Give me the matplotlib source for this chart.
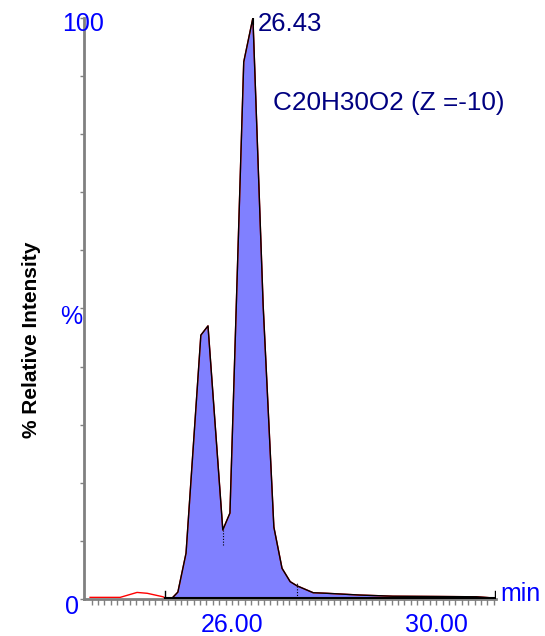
import matplotlib.pyplot as plt
import numpy as np

plt.rcParams['font.family'] = ['Liberation Sans', 'DejaVu Sans']

# chromatogram trace (retention time in min, % relative intensity)
rt = [23.22, 23.81, 24.14, 24.34, 24.65, 24.69, 24.83, 24.94, 25.10, 25.39, 25.53,
      25.82, 25.96, 26.23, 26.41, 26.61, 26.82, 26.98, 27.14, 27.27, 27.59, 27.86,
      28.50, 29.15, 30.07, 30.79, 31.11, 31.16]
intensity = [0.3, 0.3, 1.15, 1.0, 0.4, 0.2, 0.2, 1.2, 7.9, 45.4, 47.0,
             11.9, 14.8, 92.4, 100, 50.6, 12.4, 5.3, 3.0, 2.3, 1.1, 1.0,
             0.7, 0.5, 0.45, 0.4, 0.2, 0.2]
peak_start, peak_end = 24.69, 31.16
split_marks = [25.82, 27.27]
peak_label = "26.43"
formula = "C20H30O2 (Z =-10)"
xtick_vals = [26.0, 30.0]
xtick_text = ["26.00", "30.00"]

blue = '#0000ff'
navy = '#000080'
grey = '#808080'

fig = plt.figure(figsize=(5.45, 6.36), dpi=100)
ax = fig.add_axes([0.154, 0.058, 0.756, 0.914])

rt = np.array(rt)
intensity = np.array(intensity)
base = 0.2
m = (rt >= peak_start) & (rt <= peak_end)

ax.plot(rt, intensity, color='red', lw=1.0, zorder=2)
ax.fill_between(rt[m], base, intensity[m], color='#8080ff', lw=0, zorder=1)
ax.plot(rt[m], intensity[m], color='black', lw=1.0, zorder=3)
ax.plot([peak_start, peak_end], [base, base], color='black', lw=1.5, zorder=3)
for x in [peak_start, peak_end]:
    ax.plot([x, x], [base - 1.2, base + 1.2], color='black', lw=1.0, zorder=3)
# short dotted split marks just under the curve
for x in split_marks:
    y = np.interp(x, rt, intensity)
    ax.plot([x, x], [y - 2.6, y + 0.4], color='black', lw=0.8, ls=(0, (1, 1.5)), zorder=3)
ax.plot([26.41, 26.41], [99.0, 100.8], color='black', lw=0.8, zorder=3)

ax.set_xlim(23.1, 31.17)
ax.set_ylim(0, 100)
for s in ['top', 'right']:
    ax.spines[s].set_visible(False)
for s in ['left', 'bottom']:
    ax.spines[s].set_color(grey)
    ax.spines[s].set_linewidth(2)

ax.set_yticks(np.arange(0, 101, 10))
ax.set_yticklabels([])
ax.tick_params(axis='y', direction='out', length=3, color=grey, width=1)
ax.set_xticks(np.arange(23.25, 31.17, 0.125))
ax.set_xticklabels([])
ax.tick_params(axis='x', direction='out', length=4, color=grey, width=1)

for xv, xt in zip(xtick_vals, xtick_text):
    ax.text(xv, -4.5, xt, color=blue, fontsize=18, ha='center', va='center')

ytr = ax.get_yaxis_transform()
ax.text(-0.003, 98.9, "100", color=blue, fontsize=18, ha='center', va='center', transform=ytr)
ax.text(-0.031, 48.5, "%", color=blue, fontsize=18, ha='center', va='center', transform=ytr)
ax.text(-0.029, -1.3, "0", color=blue, fontsize=18, ha='center', va='center', transform=ytr)
ax.text(1.01, 0.9, "min", color=blue, fontsize=18, ha='left', va='center', transform=ytr)

ax.text(26.5, 99.0, peak_label, color=navy, fontsize=18.5, ha='left', va='center')
ax.text(26.8, 85.3, formula, color=navy, fontsize=18.8, ha='left', va='center')

fig.text(0.057, 0.465, "% Relative Intensity", rotation=90, fontsize=15,
         fontweight='bold', ha='center', va='center')

fig.savefig('out.png', dpi=100)
